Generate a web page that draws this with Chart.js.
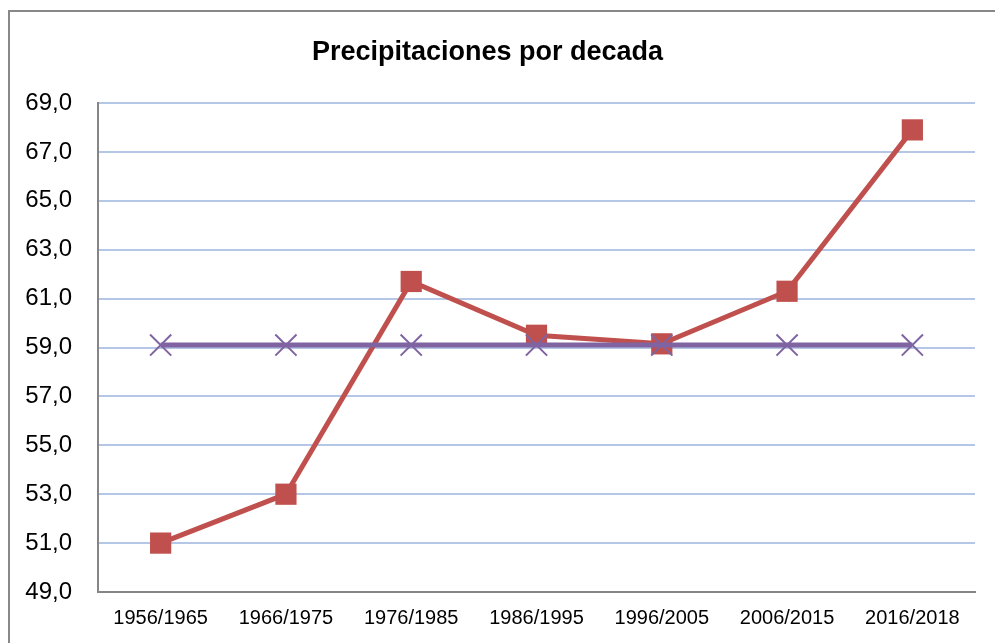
<!DOCTYPE html>
<html>
<head>
<meta charset="utf-8">
<script src="https://cdn.jsdelivr.net/npm/chart.js@4"></script>
<style>
  html, body { margin: 0; padding: 0; background: #fff; }
  #wrap { width: 995px; height: 643px; position: relative; }
</style>
</head>
<body>
<div id="wrap"><canvas id="chart" width="995" height="643"></canvas></div>
<script>
const decades = ['1956/1965', '1966/1975', '1976/1985', '1986/1995', '1996/2005', '2006/2015', '2016/2018'];
const rainfall = [51.0, 53.0, 61.7, 59.5, 59.15, 61.3, 67.9];
const average = [59.1, 59.1, 59.1, 59.1, 59.1, 59.1, 59.1];
const yMin = 49;
const yMax = 69;
const yStep = 2;

// grey frame round the chart, like the spreadsheet chart border
const framePlugin = {
  id: 'frame',
  beforeDraw(chart) {
    const ctx = chart.ctx;
    ctx.save();
    ctx.fillStyle = '#fff';
    ctx.fillRect(0, 0, chart.width, chart.height);
    ctx.strokeStyle = '#888888';
    ctx.lineWidth = 2;
    ctx.strokeRect(9, 11, chart.width + 20, chart.height + 20);
    ctx.restore();
  }
};

const ctx = document.getElementById('chart').getContext('2d');
new Chart(ctx, {
  type: 'line',
  data: {
    labels: decades,
    datasets: [
      {
        label: 'Precipitaciones',
        data: rainfall,
        borderColor: '#C0504D',
        backgroundColor: '#C0504D',
        borderWidth: 5,
        pointStyle: 'rect',
        pointRadius: 15,
        pointBorderWidth: 0,
        order: 1
      },
      {
        label: 'Media',
        data: average,
        borderColor: '#8064A2',
        backgroundColor: '#8064A2',
        borderWidth: 5,
        pointStyle: 'crossRot',
        pointRadius: 15,
        pointBorderWidth: 2,
        order: 0
      }
    ]
  },
  options: {
    responsive: false,
    animation: false,
    layout: { padding: { left: 0, right: 20, top: 0, bottom: 0 } },
    plugins: {
      legend: { display: false },
      tooltip: { enabled: false },
      title: {
        display: true,
        text: 'Precipitaciones por decada',
        color: '#000',
        font: { family: 'Liberation Sans', size: 27, weight: 'bold' },
        padding: { top: 36, bottom: 34.6 }
      }
    },
    scales: {
      x: {
        offset: true,
        grid: { display: false, drawTicks: false },
        border: { display: true, color: '#868686', width: 2 },
        ticks: {
          color: '#000',
          font: { family: 'Liberation Sans', size: 20 },
          padding: 14,
          maxRotation: 0
        },
        afterFit(scale) { scale.height = 51; }
      },
      y: {
        min: yMin,
        max: yMax,
        grid: { color: '#B4C7E7', lineWidth: 2, drawTicks: false },
        border: { display: true, color: '#868686', width: 2 },
        ticks: {
          stepSize: yStep,
          color: '#000',
          font: { family: 'Liberation Sans', size: 24 },
          padding: 26,
          callback: v => v.toFixed(1).replace('.', ',')
        },
        afterFit(scale) { scale.width = 98; }
      }
    }
  },
  plugins: [framePlugin]
});
</script>
</body>
</html>
